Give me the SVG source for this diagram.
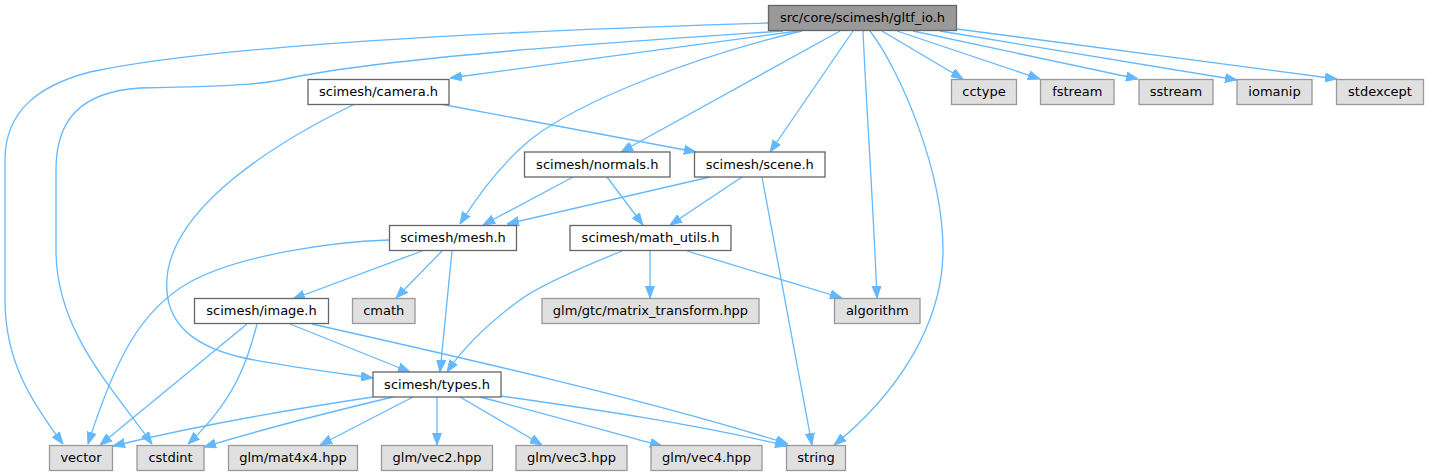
<svg xmlns="http://www.w3.org/2000/svg" width="1429" height="476" viewBox="0 0 1429 476">
<style>
.n rect{fill:#ffffff;stroke:#666666;stroke-width:1.3}
.x rect{fill:#e0e0e0;stroke:#999999;stroke-width:1.3}
.r rect{fill:#999999;stroke:#666666;stroke-width:1.3}
text{font-family:"DejaVu Sans",sans-serif;font-size:13px;fill:#000;text-anchor:middle}
#edges path{fill:none;stroke:#63b8ff;stroke-width:1.3;marker-end:url(#ah)}
</style>
<defs>
<marker id="ah" markerUnits="userSpaceOnUse" viewBox="0 -5 12 10" refX="12" refY="0" markerWidth="12" markerHeight="10" orient="auto">
<path d="M0,-4.5 L12,0 L0,4.5 z" fill="#63b8ff" stroke="#63b8ff" stroke-width="1"/>
</marker>
</defs>
<g id="edges">
<path d="M768,23 C650,27 250,38 90,72 C40,85 5,110 5,160 L5,300 C5,360 30,400 63,444"/>
<path d="M783,31 C680,38 400,55 290,78 C270,83 250,86 140,88 C80,92 56,120 56,170 L56,250 C56,330 110,385 152,444"/>
<path d="M798,31 L450,78"/>
<path d="M802,31 C700,55 580,100 530,140 C500,165 478,195 460,224"/>
<path d="M840,31 L621,152"/>
<path d="M853,31 L770,152"/>
<path d="M863,31 C866,100 873,200 877,298"/>
<path d="M870,31 C900,70 943,170 943,250 C943,330 890,400 834,445"/>
<path d="M882,31 L963,79"/>
<path d="M897,31 L1040,79"/>
<path d="M913,31 L1138,79"/>
<path d="M940,31 L1237,80"/>
<path d="M957,29 L1337,79"/>
<path d="M440,104 L696,152"/>
<path d="M355,104 C270,145 180,205 168,270 C160,320 190,345 240,357 C280,366 330,372 373,378"/>
<path d="M573,177 L483,225"/>
<path d="M607,177 L643,225"/>
<path d="M710,177 L507,224"/>
<path d="M742,177 L670,225"/>
<path d="M762,177 L812,445"/>
<path d="M389,240 C330,242 240,255 190,282 C140,310 115,360 88,444"/>
<path d="M422,251 L293,299"/>
<path d="M442,251 L396,298"/>
<path d="M452,251 L440,372"/>
<path d="M622,251 C580,268 540,285 520,300 C490,322 465,345 447,372"/>
<path d="M650,251 L650,298"/>
<path d="M687,251 L842,298"/>
<path d="M247,324 L100,445"/>
<path d="M257,324 C248,360 235,400 188,444"/>
<path d="M290,324 L410,372"/>
<path d="M312,324 C450,355 650,400 788,444"/>
<path d="M373,397 C300,408 200,425 113,446"/>
<path d="M393,397 C330,412 260,430 204,447"/>
<path d="M413,397 L320,445"/>
<path d="M437,397 L437,445"/>
<path d="M460,397 L542,445"/>
<path d="M480,397 C550,415 610,432 662,446"/>
<path d="M501,396 C600,410 700,425 787,446"/>
</g>
<g id="node_gltf_io" class="r"><rect x="768.5" y="5.5" width="188" height="25"/><text x="862.5" y="22">src/core/scimesh/gltf_io.h</text></g>
<g id="node_camera" class="n"><rect x="308" y="79.5" width="141" height="25"/><text x="378.5" y="96">scimesh/camera.h</text></g>
<g id="node_cctype" class="x"><rect x="951.5" y="79.5" width="65" height="25"/><text x="984" y="96">cctype</text></g>
<g id="node_fstream" class="x"><rect x="1040.5" y="79.5" width="73.5" height="25"/><text x="1077.25" y="96">fstream</text></g>
<g id="node_sstream" class="x"><rect x="1139" y="79.5" width="74" height="25"/><text x="1176" y="96">sstream</text></g>
<g id="node_iomanip" class="x"><rect x="1237" y="79.5" width="75" height="25"/><text x="1274.5" y="96">iomanip</text></g>
<g id="node_stdexcept" class="x"><rect x="1336.5" y="79.5" width="87" height="25"/><text x="1380" y="96">stdexcept</text></g>
<g id="node_normals" class="n"><rect x="524.5" y="152" width="145.5" height="25"/><text x="597.25" y="168.5">scimesh/normals.h</text></g>
<g id="node_scene" class="n"><rect x="694.5" y="152" width="130.5" height="25"/><text x="759.75" y="168.5">scimesh/scene.h</text></g>
<g id="node_mesh" class="n"><rect x="389.5" y="225.5" width="127" height="25"/><text x="453" y="242">scimesh/mesh.h</text></g>
<g id="node_math_utils" class="n"><rect x="570" y="225.5" width="161" height="25"/><text x="650.5" y="242">scimesh/math_utils.h</text></g>
<g id="node_image" class="n"><rect x="194.5" y="298.5" width="134" height="25"/><text x="261.5" y="315">scimesh/image.h</text></g>
<g id="node_cmath" class="x"><rect x="352.5" y="298.5" width="62.5" height="25"/><text x="383.75" y="315">cmath</text></g>
<g id="node_matrix_transform" class="x"><rect x="542" y="298.5" width="217" height="25"/><text x="650.5" y="315">glm/gtc/matrix_transform.hpp</text></g>
<g id="node_algorithm" class="x"><rect x="834.5" y="298.5" width="85.5" height="25"/><text x="877.25" y="315">algorithm</text></g>
<g id="node_types" class="n"><rect x="373" y="372" width="128" height="25"/><text x="437" y="388.5">scimesh/types.h</text></g>
<g id="node_vector" class="x"><rect x="49.5" y="445.5" width="63" height="25"/><text x="81" y="462">vector</text></g>
<g id="node_cstdint" class="x"><rect x="137" y="445.5" width="67" height="25"/><text x="170.5" y="462">cstdint</text></g>
<g id="node_mat4x4" class="x"><rect x="228.5" y="445.5" width="129" height="25"/><text x="293" y="462">glm/mat4x4.hpp</text></g>
<g id="node_vec2" class="x"><rect x="381.5" y="445.5" width="111" height="25"/><text x="437" y="462">glm/vec2.hpp</text></g>
<g id="node_vec3" class="x"><rect x="516" y="445.5" width="111" height="25"/><text x="571.5" y="462">glm/vec3.hpp</text></g>
<g id="node_vec4" class="x"><rect x="651" y="445.5" width="111" height="25"/><text x="706.5" y="462">glm/vec4.hpp</text></g>
<g id="node_string" class="x"><rect x="786.5" y="445.5" width="59" height="25"/><text x="816" y="462">string</text></g>
</svg>
